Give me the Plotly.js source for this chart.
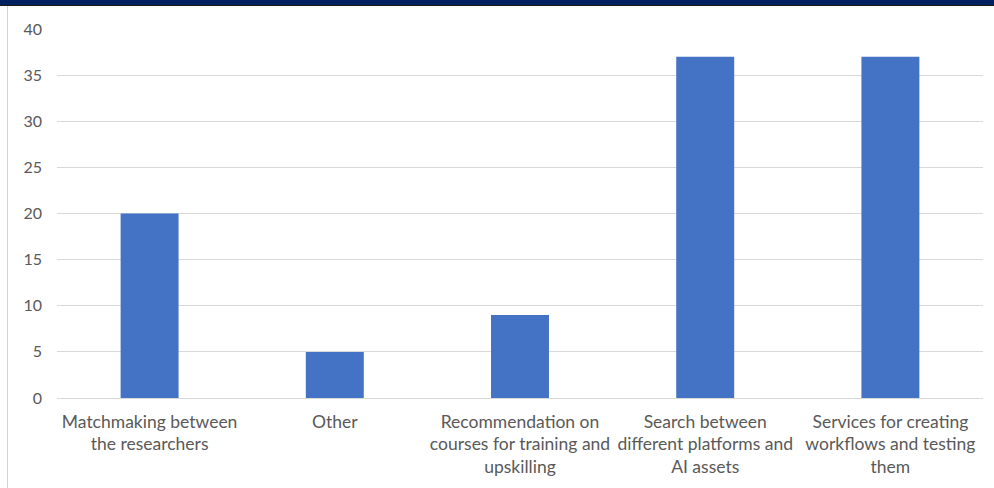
<!DOCTYPE html>
<html>
<head>
<meta charset="utf-8">
<script src="https://cdn.plot.ly/plotly-3.0.1.min.js"></script>
<style>
  html, body { margin: 0; padding: 0; background: #ffffff; overflow: hidden; }
  #wrap { position: relative; width: 994px; height: 488px; }
  #topband { position: absolute; left: 0; top: 0; width: 994px; height: 5px; background: #002060; }
  #topline { position: absolute; left: 0; top: 5px; width: 994px; height: 1px; background: #1a1a1a; }
  #leftline { position: absolute; left: 7px; top: 6px; width: 1px; height: 482px; background: #d0d0d0; }
  #chart { position: absolute; left: 0; top: 0; width: 994px; height: 488px; }
</style>
</head>
<body>
<div id="wrap">
  <div id="chart"></div>
  <div id="topband"></div>
  <div id="topline"></div>
  <div id="leftline"></div>
</div>
<script>
const categories = [
  "Matchmaking between<br>the researchers",
  "Other",
  "Recommendation on<br>courses for training and<br>upskilling",
  "Search between<br>different platforms and<br>AI assets",
  "Services for creating<br>workflows and testing<br>them"
];
const values = [20, 5, 9, 37, 37];
const yTicks = [0, 5, 10, 15, 20, 25, 30, 35, 40];

const fontFamily = "Lato, 'Open Sans', sans-serif";

Plotly.newPlot('chart', [{
  type: 'bar',
  x: categories,
  y: values,
  marker: { color: '#4472c4' },
  hoverinfo: 'none'
}], {
  width: 994,
  height: 488,
  margin: { l: 57, r: 11, t: 29, b: 90 },
  paper_bgcolor: '#ffffff',
  plot_bgcolor: '#ffffff',
  bargap: 0.687,
  showlegend: false,
  font: { family: fontFamily, size: 16, color: '#595959' },
  xaxis: {
    type: 'category',
    showgrid: false,
    zeroline: false,
    showline: false,
    ticks: '',
    tickangle: 0,
    ticklabelstandoff: 11,
    automargin: false,
    tickfont: { family: fontFamily, size: 17.5, color: '#595959' }
  },
  yaxis: {
    range: [0, 40],
    tickvals: yTicks,
    ticktext: yTicks.map(String),
    showgrid: true,
    gridcolor: '#d9d9d9',
    gridwidth: 1,
    zeroline: true,
    zerolinecolor: '#d9d9d9',
    zerolinewidth: 1,
    showline: false,
    ticks: '',
    ticklabelstandoff: 14,
    automargin: false,
    tickfont: { family: fontFamily, size: 16, color: '#595959' }
  }
}, { staticPlot: true, displayModeBar: false });
</script>
</body>
</html>
